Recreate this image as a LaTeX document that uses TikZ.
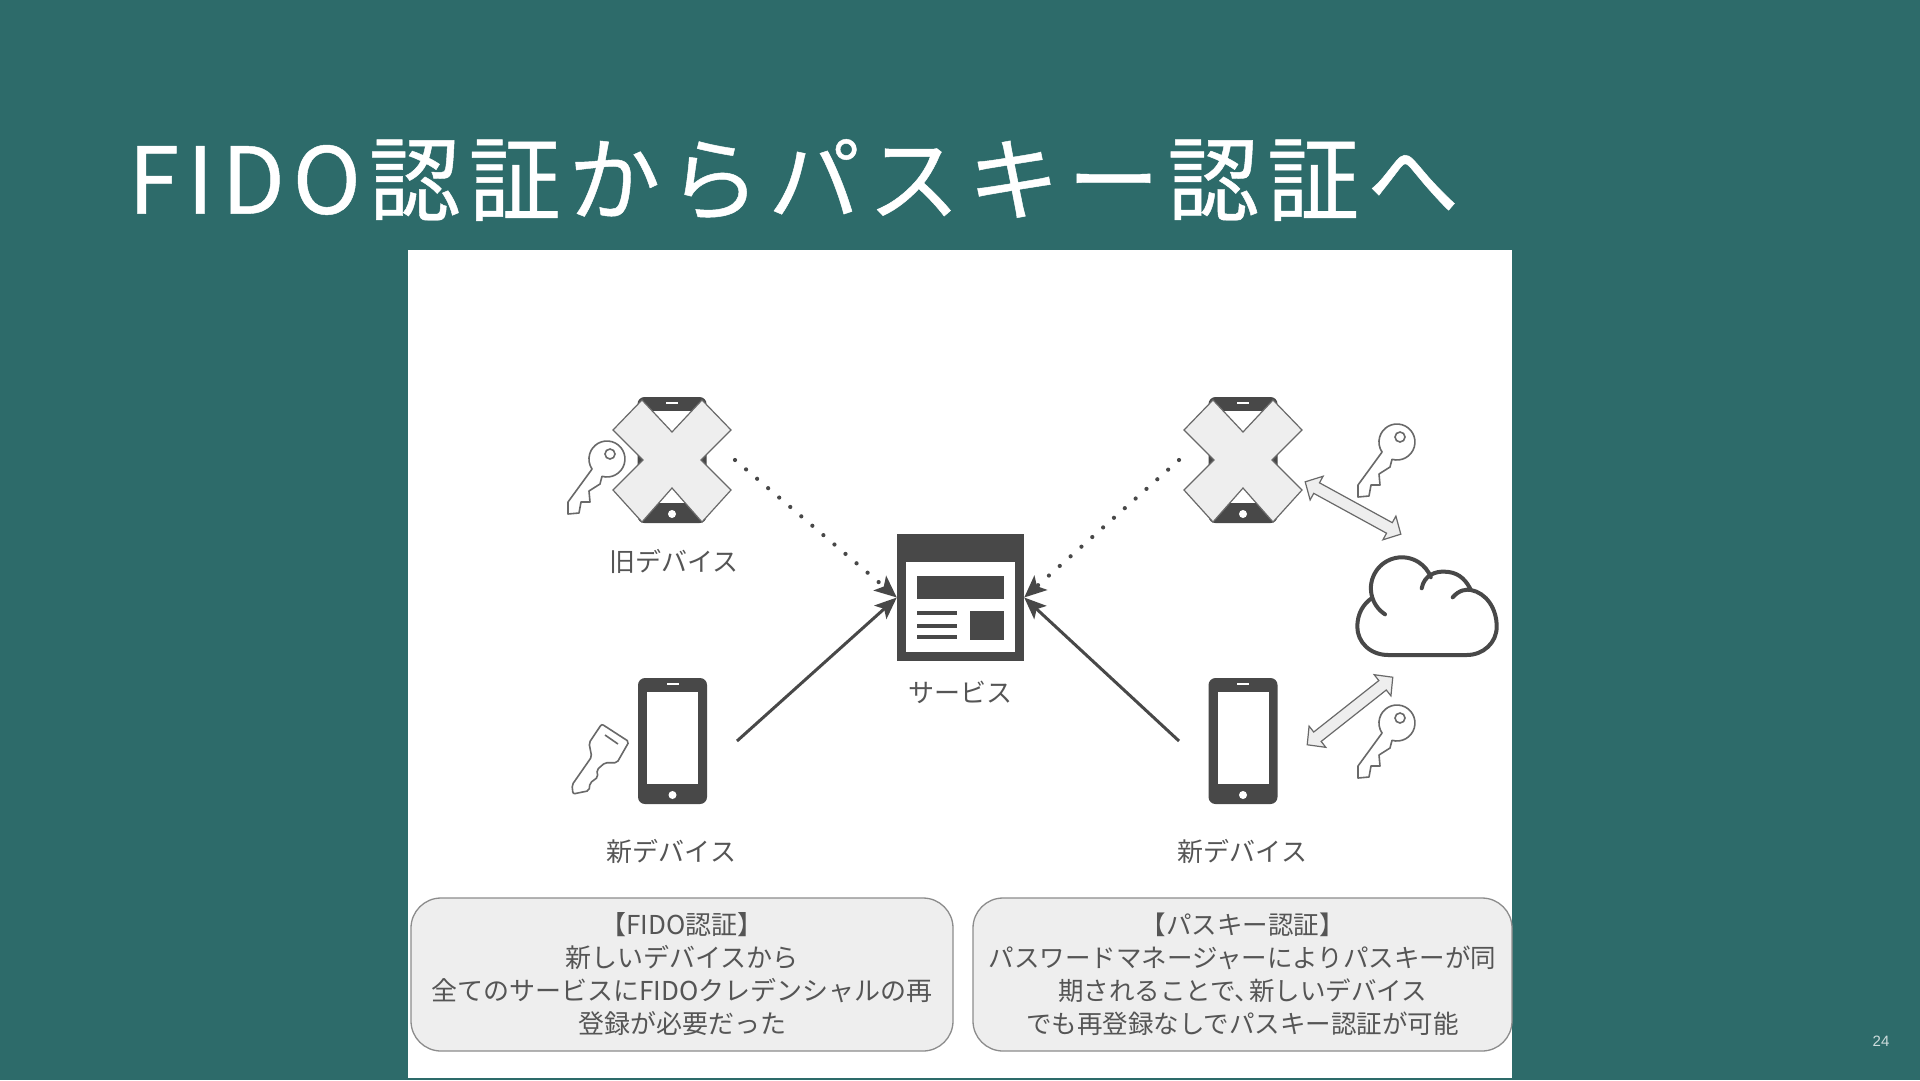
\documentclass[tikz,border=0pt]{standalone}
\usepackage{fontspec}
\setmainfont{Noto Sans CJK JP}
\newfontfamily\pagefont{Liberation Sans}
\newfontfamily\titlefont[LetterSpace=8.5,FakeBold=0.5]{Noto Sans CJK JP}
\usetikzlibrary{arrows.meta,calc}
\definecolor{slideteal}{RGB}{45,107,106}
\definecolor{icondark}{RGB}{72,72,72}
\definecolor{icongray}{RGB}{105,105,105}
\definecolor{labelgray}{RGB}{85,85,85}
\definecolor{boxfill}{RGB}{238,238,238}
\definecolor{boxborder}{RGB}{140,140,140}
\definecolor{pagegray}{RGB}{205,220,220}
\tikzset{
  solidarrow/.style={-{Stealth[length=22pt,width=18pt,inset=5pt]}, line width=3pt, draw=icondark},
  dotarrow/.style={-{Stealth[length=22pt,width=19pt,inset=5pt]}, line width=4.2pt, draw=icondark, line cap=round, dash pattern=on 0pt off 14.5pt},
  phonebody/.style={
    fill=icondark,
    rounded corners=7pt,
    minimum width=69pt,
    minimum height=126pt,
    inner sep=0pt
  },
  phonescreen/.style={
    fill=white,
    minimum width=51pt,
    minimum height=92pt,
    inner sep=0pt
  },
  devlabel/.style={
    text=labelgray,
    font=\fontsize{26pt}{30pt}\selectfont,
    inner sep=0pt
  },
  notebox/.style={
    draw=boxborder,
    fill=boxfill,
    line width=1.3pt,
    rounded corners=30pt,
    align=center,
    text=labelgray,
    font=\fontsize{26pt}{33pt}\selectfont,
    minimum height=153pt,
    inner sep=0pt
  },
  xmark/.pic={
    \draw[fill=boxfill, draw=icongray, line width=1.2pt, line join=miter]
      (0,-28) -- (30,-60) -- (59,-30) -- (29,0) -- (59,30) -- (30,62) -- (0,28)
      -- (-30,62) -- (-59,30) -- (-29,0) -- (-59,-30) -- (-30,-60) -- cycle;
  },
  roundkey/.pic={
    \draw[fill=white, draw=icongray, line width=1.6pt, line join=round]
      (-5,17.3) arc[start angle=254, end angle=574, radius=18pt]
      -- (-39,43) -- (-39,55) -- (-28,54) -- (-26,43) -- (-17,43) -- (-18,32) -- (-7,25) -- cycle;
    \draw[draw=icongray, line width=1.6pt] (3,-5) circle[radius=5pt];
  },
  syncarrow/.pic={
    \draw[fill=boxfill, draw=icongray, line width=1.2pt, line join=miter]
      (-54.5,0) -- (-41.5,-13.5) -- (-41.5,-6) -- (41.5,-6) -- (41.5,-13.5) -- (54.5,0)
      -- (41.5,13.5) -- (41.5,6) -- (-41.5,6) -- (-41.5,13.5) -- cycle;
  }
}
\begin{document}
\begin{tikzpicture}[x=1pt,y=-1pt]
  \useasboundingbox (0,0) rectangle (1920,1080);
  \fill[slideteal] (0,0) rectangle (1920,1080);
  \fill[white] (408,250) rectangle (1512,1078);

  \node[text=white, font=\titlefont\fontsize{92pt}{100pt}\selectfont, anchor=west, inner sep=0pt] (title) at (128,180) {FIDO認証からパスキー認証へ};
  \node[text=pagegray, font=\pagefont\fontsize{15pt}{18pt}\selectfont, inner sep=0pt] (pagenum) at (1881,1041) {24};

  \foreach \nm/\px/\py in {oldl/672/460, newl/672.5/741, oldr/1243/460, newr/1243/741} {
    \node[phonebody] (\nm) at (\px,\py) {};
    \node[phonescreen] (\nm scr) at ($(\nm)+(0,-3)$) {};
    \fill[white] ($(\nm)+(0,54)$) circle[radius=4pt];
    \fill[white] ($(\nm)+(-6,-58)$) rectangle ($(\nm)+(6,-56.5)$);
  }
  \pic at (672,460) {xmark};
  \pic at (1243,460) {xmark};

  \pic at (607,459) {roundkey};
  \pic at (1397,442) {roundkey};
  \pic at (1397,723) {roundkey};
  \draw[fill=white, draw=icongray, line width=1.6pt, rounded corners=2pt]
    (601.7,724) -- (629,741.7) -- (617,762.7) -- (605,762.7) -- (596.7,770) -- (598,777) -- (590,783)
    -- (589,790.7) -- (573,794) -- (572,785) -- (591.7,756.7) -- (589,743) -- cycle;
  \draw[draw=icongray, line width=1.6pt] (605,735) -- (618,744);

  \node[fill=icondark, minimum width=127pt, minimum height=127pt, inner sep=0pt] (svc) at (960.5,597.5) {};
  \fill[white] (906,562) rectangle (1015,652);
  \fill[icondark] (917,576) rectangle (1004,599);
  \fill[icondark] (970,611) rectangle (1004,640);
  \foreach \ly in {613,625.5,637}
    \fill[icondark] (917,\ly-2) rectangle (957,\ly+2);

  \node[devlabel] (oldllabel) at (674,561.5) {旧デバイス};
  \node[devlabel] (newllabel) at (671.5,851.5) {新デバイス};
  \node[devlabel] (newrlabel) at (1242.5,851.5) {新デバイス};
  \node[devlabel] (svclabel) at (960.5,692.5) {サービス};

  \coordinate (oldlend) at (735,460);
  \coordinate (newlend) at (737,741);
  \coordinate (oldrend) at (1179,460);
  \coordinate (newrend) at (1179,741);
  \draw[dotarrow] (oldlend) -- (svc.west);
  \draw[solidarrow] (newlend) -- (svc.west);
  \draw[dotarrow] (oldrend) -- (svc.east);
  \draw[solidarrow] (newrend) -- (svc.east);

  \pic[rotate=-28.7] at (1353,508) {syncarrow};
  \pic[rotate=38.3] at (1350,711) {syncarrow};

  \draw[draw=icondark, line width=4pt, line cap=round, fill=white]
    (1452.7,597.3) .. controls (1459,590) and (1466,589) .. (1471,590)
    .. controls (1486,593) and (1496.7,608) .. (1496.7,626.7)
    .. controls (1496.7,643) and (1483,655) .. (1466.7,655)
    -- (1388.3,655)
    .. controls (1370,655) and (1357.3,642) .. (1357.3,626.7)
    .. controls (1357.3,614) and (1363,604) .. (1372,598);
  \draw[draw=icondark, line width=4pt, line cap=round]
    (1385,614.3) arc[start angle=237, end angle=21, radius=31pt];
  \draw[draw=icondark, line width=4pt, line cap=round]
    (1421.7,588.3) .. controls (1424,575) and (1436,571) .. (1445,571.7)
    .. controls (1456,572) and (1464,577) .. (1470,588.3);

  \node[notebox, minimum width=542pt] (fidobox) at (682,974.5) {【FIDO認証】\\新しいデバイスから\\全てのサービスにFIDOクレデンシャルの再\\登録が必要だった};
  \node[notebox, minimum width=539pt, font=\fontsize{25.5pt}{33pt}\selectfont] (passbox) at (1242.5,974.5) {【パスキー認証】\\パスワードマネージャーによりパスキーが同\\期されることで、\hspace{-0.45em}新しいデバイス\\でも再登録なしでパスキー認証が可能};
\end{tikzpicture}
\end{document}
